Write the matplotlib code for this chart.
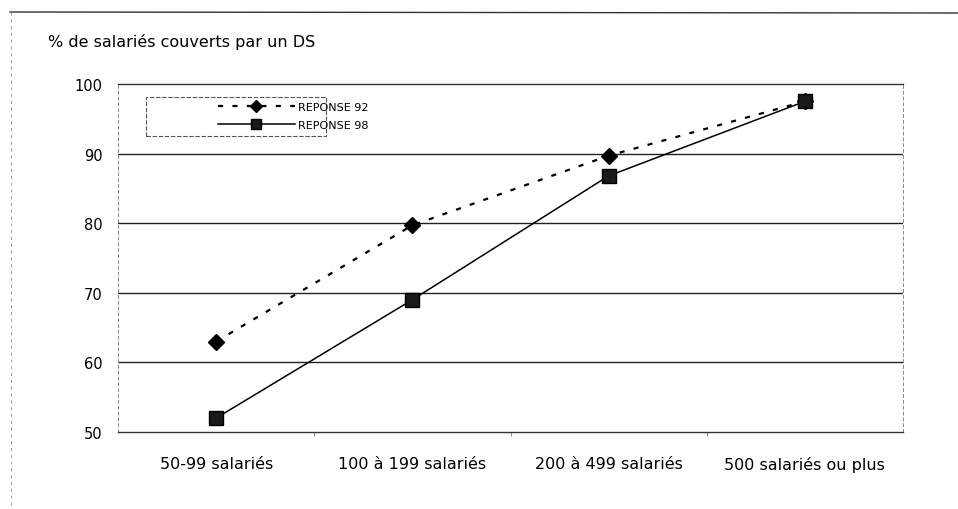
import matplotlib
matplotlib.use("Agg")
import matplotlib.pyplot as plt
from matplotlib.lines import Line2D
from matplotlib.patches import Rectangle

plt.rcParams['font.family'] = ['DejaVu Sans']

categories = ["50-99 salariés", "100 à 199 salariés", "200 à 499 salariés", "500 salariés ou plus"]
reponse_92 = [63, 79.7, 89.7, 97.5]
reponse_98 = [52, 69, 86.8, 97.5]
yticks = [50, 60, 70, 80, 90, 100]
title = "% de salariés couverts par un DS"

fig = plt.figure(figsize=(9.58, 5.10), dpi=100)
ax = fig.add_axes([118/958, 1-433/510, (903-118)/958, (433-85)/510])

x = list(range(len(categories)))
ax.plot(x, reponse_92, color='black', lw=1.6, linestyle=(0, (2.3, 4.2)),
        marker='D', markersize=8.5, markerfacecolor='black', markeredgecolor='black',
        label='REPONSE 92', zorder=4)
ax.plot(x, reponse_98, color='black', lw=1.1, linestyle='-',
        marker='s', markersize=10.5, markerfacecolor='#1a1a1a', markeredgecolor='black',
        label='REPONSE 98', zorder=5)

ax.set_xlim(-0.5, len(categories) - 0.5)
ax.set_ylim(50, 100)
ax.set_yticks(yticks)
ax.set_yticklabels([str(v) for v in yticks])
ax.set_xticks(x)
ax.set_xticklabels(categories)
ax.set_xticks([i + 0.5 for i in range(len(categories) - 1)], minor=True)

ax.tick_params(axis='y', length=0, pad=11, labelsize=10.5)
ax.tick_params(axis='x', which='major', length=0, pad=17, labelsize=11.5)
ax.tick_params(axis='x', which='minor', length=3, width=0.6, color='#777')

for v in yticks[1:-1]:
    ax.axhline(v, color='#222', lw=1.0, zorder=1)

ax.spines['top'].set_color('#333')
ax.spines['top'].set_linewidth(1.0)
ax.spines['bottom'].set_color('#333')
ax.spines['bottom'].set_linewidth(1.0)
for s in ('left', 'right'):
    ax.spines[s].set_color('#888')
    ax.spines[s].set_linewidth(0.7)
    ax.spines[s].set_linestyle((0, (3, 3)))

# legend
leg = ax.legend(loc='upper left', bbox_to_anchor=((209-118)/785, (433-94)/348),
                frameon=False, fontsize=8, handlelength=6.9, handletextpad=0.27,
                labelspacing=0.75, borderpad=0.3, markerscale=0.7)
ax.add_patch(Rectangle(((146-118)/785, (433-137)/348), 180/785, 39/348,
                       transform=ax.transAxes, fill=False, edgecolor='#555',
                       lw=0.8, linestyle=(0, (4, 1.5)), zorder=3))

fig.text(48/958, 1-42/510, title, fontsize=11.5, va='center', ha='left')

# outer frame of the scanned page
fig.add_artist(Line2D([10/958, 1.0], [1-13/510, 1-14/510], transform=fig.transFigure,
                      color='#333', lw=1.0))
fig.add_artist(Line2D([11/958, 11/958], [1-13/510, 0.0], transform=fig.transFigure,
                      color='#999', lw=0.7, linestyle=(0, (3, 4))))

fig.savefig("out.png", dpi=100)
